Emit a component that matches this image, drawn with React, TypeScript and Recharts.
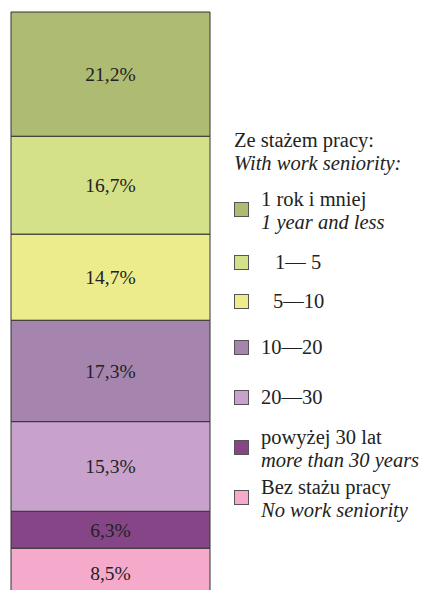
import { BarChart, Bar, XAxis, YAxis, Legend, LabelList } from 'recharts';

// legend order (top of bar first)
const seriesKeys = ['y1', 'y1to5', 'y5to10', 'y10to20', 'y20to30', 'y30plus', 'none'];
const shares = [21.2, 16.7, 14.7, 17.3, 15.3, 6.3, 8.5];
const labelsPl = ['1 rok i mniej', '1— 5', '5—10', '10—20', '20—30', 'powyżej 30 lat', 'Bez stażu pracy'];
const labelsEn = ['1 year and less', '', '', '', '', 'more than 30 years', 'No work seniority'];
const colors = ['#aebb72', '#d5e189', '#ecec8c', '#a585ad', '#c8a2cc', '#864586', '#f5aacb'];
const legendTitle = ['Ze stażem pracy:', 'With work seniority:'];

const FONT = "'Liberation Serif', Tinos, 'DejaVu Serif', serif";

// square top y and text indent for each legend row
const rowTops = [202, 255, 294, 340, 390, 440, 490];
const rowIndent = [0, 14, 12, 0, 0, 0, 0];

const row: Record<string, number | string> = { name: 'total' };
seriesKeys.forEach((k, i) => (row[k] = shares[i]));
const data = [row];

const fmt = (v: any) => Number(v).toFixed(1).replace('.', ',') + '%';

function SeniorityLegend() {
  return (
    <div style={{ position: 'absolute', left: 0, top: 0, fontFamily: FONT, color: '#222', fontSize: 20.5 }}>
      <div style={{ position: 'absolute', left: 234, top: 129, lineHeight: '23px', whiteSpace: 'nowrap' }}>
        <div>{legendTitle[0]}</div>
        <div style={{ fontStyle: 'italic' }}>{legendTitle[1]}</div>
      </div>
      {seriesKeys.map((k, i) => {
        const twoLines = labelsEn[i] !== '';
        return (
          <div key={k}>
            <div
              style={{
                position: 'absolute',
                left: 234,
                top: rowTops[i],
                width: 13,
                height: 13,
                background: colors[i],
                border: '1px solid #555',
              }}
            />
            <div
              style={{
                position: 'absolute',
                left: 261 + rowIndent[i],
                top: twoLines ? rowTops[i] - 14 : rowTops[i] - 4,
                lineHeight: '23px',
                whiteSpace: 'nowrap',
              }}
            >
              <div>{labelsPl[i]}</div>
              {twoLines && <div style={{ fontStyle: 'italic' }}>{labelsEn[i]}</div>}
            </div>
          </div>
        );
      })}
    </div>
  );
}

export default function App() {
  // bottom segment first in the stack
  const order = seriesKeys.map((_, i) => i).reverse();
  return (
    <div style={{ position: 'fixed', left: 0, top: 0, width: 427, height: 590, overflow: 'hidden', background: '#fff', fontFamily: FONT }}>
      <BarChart
        width={427}
        height={600}
        data={data}
        margin={{ top: 12, right: 217, bottom: 2, left: 11 }}
        barCategoryGap={0}
        style={{ fontFamily: FONT }}
      >
        <XAxis dataKey="name" hide />
        <YAxis hide domain={[0, 100]} />
        <Legend
          content={() => <SeniorityLegend />}
          wrapperStyle={{ position: 'absolute', left: 0, top: 0, width: 0, height: 0 }}
        />
        {order.map((i) => (
          <Bar
            key={seriesKeys[i]}
            dataKey={seriesKeys[i]}
            stackId="a"
            fill={colors[i]}
            stroke="#333"
            strokeWidth={1}
            isAnimationActive={false}
          >
            <LabelList
              dataKey={seriesKeys[i]}
              position="center"
              formatter={fmt}
              fill="#222"
              fontSize={19.5}
              fontFamily={FONT}
            />
          </Bar>
        ))}
      </BarChart>
    </div>
  );
}
